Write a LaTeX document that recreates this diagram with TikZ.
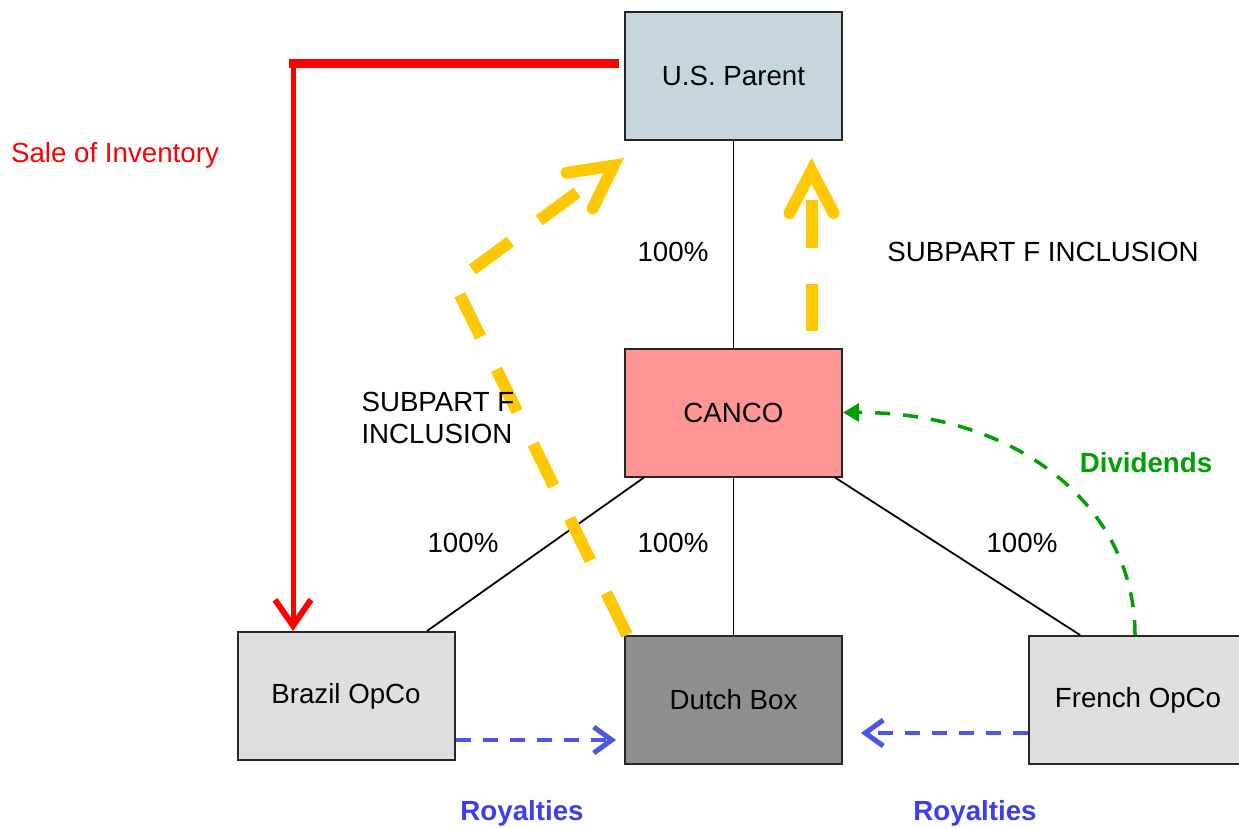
\documentclass[tikz,border=0pt]{standalone}
\usepackage{fontspec}
\setmainfont{Liberation Sans}
\usetikzlibrary{arrows.meta}

\definecolor{parentfill}{RGB}{197,214,223}
\definecolor{cancofill}{RGB}{255,149,149}
\definecolor{opcofill}{RGB}{223,223,223}
\definecolor{dutchfill}{RGB}{143,143,143}
\definecolor{inclyellow}{RGB}{255,200,0}
\definecolor{divgreen}{RGB}{0,160,0}
\definecolor{royline}{RGB}{75,85,230}
\definecolor{roytext}{RGB}{60,60,240}

\begin{document}
\begin{tikzpicture}[x=1pt,y=-1pt,font=\fontsize{27.7}{32}\selectfont,
  entity/.style={draw=black!85,line width=2pt,minimum width=217pt,minimum height=128pt},
  own/.style={line width=1.8pt},
  sale/.style={draw=red},
  inclusion/.style={draw=inclyellow,line width=12pt,dash pattern=on 47pt off 36pt,
    -{Straight Barb[length=42pt,width=44pt,line cap=round]}},
  royalty/.style={draw=royline,line width=4pt,dash pattern=on 15pt off 12pt,
    -{Straight Barb[length=18pt,width=26pt,line width=5pt]}},
  dividend/.style={draw=divgreen,line width=3.5pt,dash pattern=on 15pt off 13pt,
    -{Triangle[length=16pt,width=18pt]}}]
  \useasboundingbox (0,0) rectangle (1239,829);

  % companies
  \node[entity,fill=parentfill] (usp) at (733.5,76) {U.S. Parent};
  \node[entity,fill=cancofill] (canco) at (733.5,412.5) {CANCO};
  \node[entity,fill=opcofill] (brazil) at (346,696) {Brazil OpCo};
  \node[entity,fill=dutchfill] (dutch) at (733.5,700) {Dutch Box};
  \node[entity,fill=opcofill,minimum width=218pt] (french) at (1138,700) {French OpCo};

  % ownership
  \draw[own] (usp.south) -- (canco.north);
  \draw[own] ([xshift=20pt]canco.south west) -- ([xshift=81pt]brazil.north);
  \draw[own] (canco.south) -- (dutch.north);
  \draw[own] ([xshift=-8pt]canco.south east) -- ([xshift=-58pt]french.north);
  \node (pctusp) at (673,252) {100\%};
  \node (pctbrazil) at (463,543) {100\%};
  \node (pctdutch) at (673,543) {100\%};
  \node (pctfrench) at (1022,543) {100\%};

  % sale of inventory
  \coordinate (turn) at (293,64);
  \draw[sale,line width=9pt] ([xshift=-5pt]usp.west |- turn) -- ([xshift=-4pt]turn);
  \draw[sale,line width=5pt,-{Straight Barb[length=26pt,width=36pt,line width=6pt]}]
    ([yshift=4.5pt]turn) -- (brazil.north -| turn);
  \node[text=red] (salelbl) at (115,155) {Sale of Inventory};

  % subpart F inclusions
  \coordinate (bend) at (454,283);
  \draw[inclusion] ([xshift=3pt]dutch.north west) -- (bend) -- ([yshift=-17pt]usp.south west);
  \draw[inclusion] ([xshift=78pt,yshift=17pt]canco.north) -- ([xshift=78pt,yshift=-17pt]usp.south);
  \node (inclright) at (1043,252) {SUBPART F INCLUSION};
  \node[anchor=west,align=left] (inclleft) at (358,418) {SUBPART F\\INCLUSION};

  % dividends
  \draw[dividend] ([xshift=-3pt]french.north) .. controls (1135,505) and (1015,412) .. (canco.east);
  \node[text=divgreen,font=\fontsize{27.7}{32}\selectfont\bfseries] (divlbl) at (1146,463) {Dividends};

  % royalties
  \draw[royalty] ([yshift=-44pt]brazil.east) -- ([xshift=-8pt,yshift=-40pt]dutch.west);
  \draw[royalty] ([yshift=-33pt]french.west) -- ([xshift=18pt,yshift=-33pt]dutch.east);
  \node[text=roytext,font=\fontsize{27.7}{32}\selectfont\bfseries] (roybrazil) at (522,813) {Royalties};
  \node[text=roytext,font=\fontsize{27.7}{32}\selectfont\bfseries] (royfrench) at (975,813) {Royalties};
\end{tikzpicture}
\end{document}
